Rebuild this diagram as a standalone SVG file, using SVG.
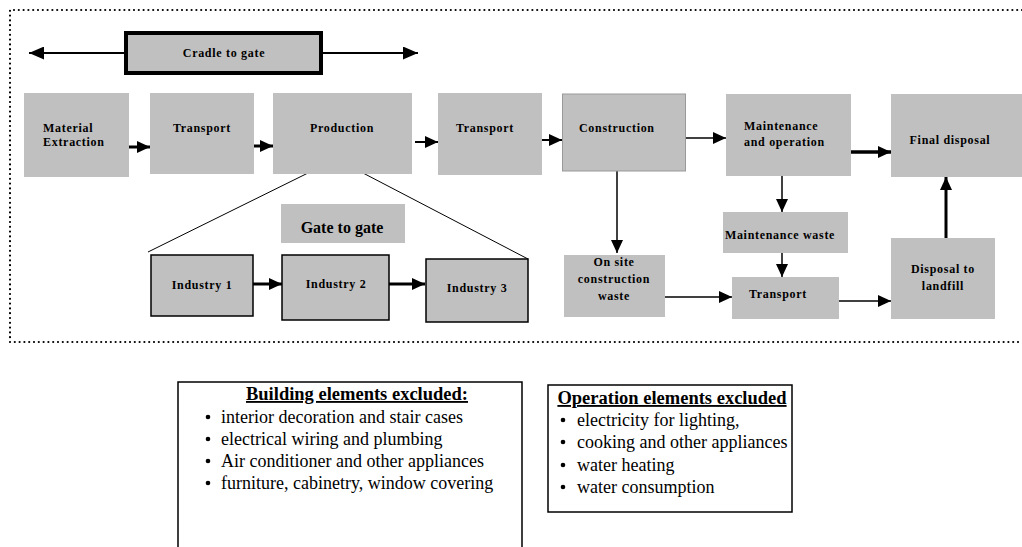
<svg xmlns="http://www.w3.org/2000/svg" width="1022" height="547" viewBox="0 0 1022 547">
<style>
.box{fill:#c0c0c0;stroke:none}
.bbox{fill:#c0c0c0;stroke:#000;stroke-width:1.5}
.lbl{font-family:"Liberation Serif","Times New Roman",serif;font-weight:bold;font-size:12px;letter-spacing:0.7px;fill:#000}
.mid{text-anchor:middle}
.c{fill:none;stroke:#000}
.dot{fill:none;stroke:#000;stroke-width:2.2;stroke-linecap:round;stroke-dasharray:0 4.8}
.ttl{font-family:"Liberation Serif","Times New Roman",serif;font-weight:bold;font-size:18.5px;text-decoration:underline;fill:#000}
.itm{font-family:"Liberation Serif","Times New Roman",serif;font-size:18px;fill:#000}
</style>
<defs>
<marker id="ah" markerWidth="13" markerHeight="12" refX="13" refY="6" orient="auto" markerUnits="userSpaceOnUse"><path d="M0,0 L13,6 L0,12 z" fill="#000"/></marker>
<marker id="ahL" markerWidth="15" markerHeight="13" refX="15" refY="6.5" orient="auto" markerUnits="userSpaceOnUse"><path d="M0,0 L15,6.5 L0,13 z" fill="#000"/></marker>
</defs>
<rect width="1022" height="547" fill="#fff"/>
<path class="dot" d="M1022,10 L10,10 L10,342 L1022,342"/>

<g id="connectors">
<path class="c" stroke-width="2" d="M125,53 L29,53" marker-end="url(#ahL)"/>
<path class="c" stroke-width="2" d="M322,53 L418,53" marker-end="url(#ahL)"/>
<path class="c" stroke-width="3" d="M129,147 L150,147" marker-end="url(#ah)"/>
<path class="c" stroke-width="3" d="M254,146 L273,146" marker-end="url(#ah)"/>
<path class="c" stroke-width="2" d="M415,142 L438,142" marker-end="url(#ah)"/>
<path class="c" stroke-width="2" d="M542,140 L562,140" marker-end="url(#ah)"/>
<path class="c" stroke-width="1.5" d="M686,138 L726,138" marker-end="url(#ah)"/>
<path class="c" stroke-width="3.5" d="M851,152 L891,152" marker-end="url(#ah)"/>
<path class="c" stroke-width="1.5" d="M617,171 L617,253" marker-end="url(#ah)"/>
<path class="c" stroke-width="1.5" d="M782,176 L782,212" marker-end="url(#ah)"/>
<path class="c" stroke-width="1.5" d="M782,253 L782,277" marker-end="url(#ah)"/>
<path class="c" stroke-width="1.5" d="M665,297 L732,297" marker-end="url(#ah)"/>
<path class="c" stroke-width="1.5" d="M839,301 L891,301" marker-end="url(#ah)"/>
<path class="c" stroke-width="3" d="M946,238 L946,177" marker-end="url(#ah)"/>
<path class="c" stroke-width="1" d="M308,173 L148,252"/>
<path class="c" stroke-width="1" d="M363,173 L528,259"/>
<path class="c" stroke-width="3" d="M253,284 L282,284" marker-end="url(#ah)"/>
<path class="c" stroke-width="3" d="M389,284 L425,284" marker-end="url(#ah)"/>
</g>

<g id="cradle">
<rect x="126" y="33" width="195" height="40" fill="#c0c0c0" stroke="#000" stroke-width="4"/>
<text class="lbl mid" x="224" y="57">Cradle to gate</text>
</g>
<g id="material">
<rect class="box" x="24" y="93" width="105" height="84"/>
<text class="lbl" x="43" y="132">Material</text>
<text class="lbl" x="43" y="146">Extraction</text>
</g>
<g id="transport1">
<rect class="box" x="150" y="93" width="104" height="81"/>
<text class="lbl mid" x="202" y="132">Transport</text>
</g>
<g id="production">
<rect class="box" x="273" y="93" width="139" height="81"/>
<text class="lbl mid" x="342" y="132">Production</text>
</g>
<g id="transport2">
<rect class="box" x="438" y="93" width="104" height="82"/>
<text class="lbl mid" x="485" y="132">Transport</text>
</g>
<g id="construction">
<rect x="562.5" y="94" width="123" height="77" fill="#c0c0c0" stroke="#999" stroke-width="1"/>
<text class="lbl" x="579" y="132">Construction</text>
</g>
<g id="maintenance">
<rect class="box" x="726" y="94" width="125" height="82"/>
<text class="lbl" x="744" y="130">Maintenance</text>
<text class="lbl" x="744" y="146">and operation</text>
</g>
<g id="final">
<rect class="box" x="891" y="94" width="131" height="83"/>
<text class="lbl mid" x="950" y="144">Final disposal</text>
</g>
<g id="gatetogate">
<rect class="box" x="281" y="204" width="124" height="39"/>
<text class="lbl mid" x="342" y="233" style="font-size:16px;letter-spacing:0">Gate to gate</text>
</g>
<g id="industry1">
<rect class="bbox" x="151" y="255" width="102" height="61"/>
<text class="lbl mid" x="202" y="289">Industry 1</text>
</g>
<g id="industry2">
<rect class="bbox" x="282" y="255" width="107" height="65"/>
<text class="lbl mid" x="336" y="288">Industry 2</text>
</g>
<g id="industry3">
<rect class="bbox" x="426" y="259" width="102" height="63"/>
<text class="lbl mid" x="477" y="292">Industry 3</text>
</g>
<g id="onsite">
<rect class="box" x="564" y="255" width="101" height="62"/>
<text class="lbl mid" x="614" y="266">On site</text>
<text class="lbl mid" x="614" y="283">construction</text>
<text class="lbl mid" x="614" y="300">waste</text>
</g>
<g id="maintwaste">
<rect class="box" x="723" y="212" width="125" height="41"/>
<text class="lbl mid" x="780" y="239">Maintenance waste</text>
</g>
<g id="transport3">
<rect class="box" x="732" y="277" width="107" height="42"/>
<text class="lbl mid" x="778" y="298">Transport</text>
</g>
<g id="landfill">
<rect class="box" x="891" y="238" width="104" height="81"/>
<text class="lbl mid" x="943" y="273">Disposal to</text>
<text class="lbl mid" x="943" y="290">landfill</text>
</g>

<g id="building-excluded">
<path d="M178,548 L178,382 L522,382 L522,548" fill="none" stroke="#000" stroke-width="1.5"/>
<text class="ttl" x="357" y="400" text-anchor="middle">Building elements excluded:</text>
<g class="itm">
<circle cx="208" cy="417" r="2.3"/><text x="221" y="423">interior decoration and stair cases</text>
<circle cx="208" cy="439" r="2.3"/><text x="221" y="445">electrical wiring and plumbing</text>
<circle cx="208" cy="461" r="2.3"/><text x="221" y="467">Air conditioner and other appliances</text>
<circle cx="208" cy="483" r="2.3"/><text x="221" y="489">furniture, cabinetry, window covering</text>
</g>
</g>
<g id="operation-excluded">
<rect x="548" y="385" width="244" height="127" fill="none" stroke="#000" stroke-width="1.5"/>
<text class="ttl" x="672" y="404" text-anchor="middle">Operation elements excluded</text>
<g class="itm">
<circle cx="563" cy="420" r="2.3"/><text x="577" y="426">electricity for lighting,</text>
<circle cx="563" cy="442" r="2.3"/><text x="577" y="448">cooking and other appliances</text>
<circle cx="563" cy="465" r="2.3"/><text x="577" y="471">water heating</text>
<circle cx="563" cy="487" r="2.3"/><text x="577" y="493">water consumption</text>
</g>
</g>
</svg>
